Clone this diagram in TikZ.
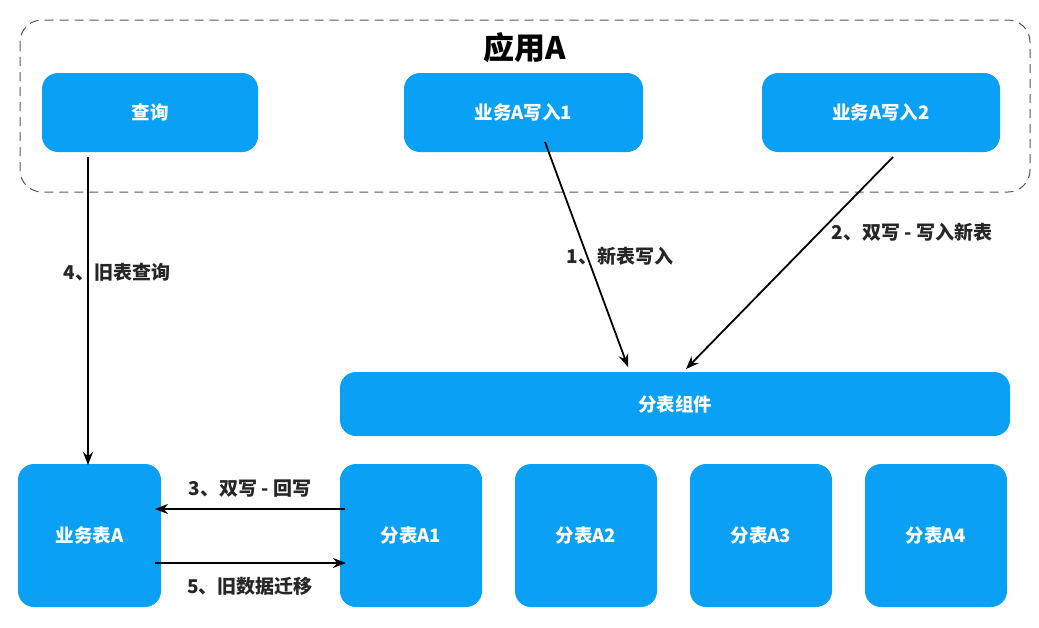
\documentclass[tikz,border=0pt]{standalone}
\usepackage{fontspec}
\setmainfont{Noto Sans CJK SC}
\usetikzlibrary{arrows.meta}
\definecolor{boxblue}{RGB}{10,160,245}
\tikzset{
  bx/.style={fill=boxblue, rounded corners=16pt, text=white, font=\bfseries\fontsize{18.5}{22}\selectfont, inner sep=0pt},
  arr/.style={-{Stealth[length=13pt,width=10pt]}, line width=1.8pt, black},
  lbl/.style={font=\bfseries\fontsize{19}{22}\selectfont, text=black!85, inner sep=1pt},
}
\begin{document}
\begin{tikzpicture}[x=1pt,y=-1pt]
\useasboundingbox (0,0) rectangle (1039,627);
% container
\draw[gray!70!black, dashed, dash pattern=on 9pt off 6pt, line width=1pt, rounded corners=22pt] (20,20) rectangle (1030,192);
\node[font=\bfseries\fontsize{31}{34}\selectfont] (title) at (525,48) {应用A};
% top boxes
\node[bx, minimum width=216pt, minimum height=79pt] (q) at (150,112.5) {查询};
\node[bx, minimum width=239pt, minimum height=79pt] (w1) at (523.5,112.5) {业务A写入1};
\node[bx, minimum width=238pt, minimum height=79pt] (w2) at (881,112.5) {业务A写入2};
% middle
\node[bx, minimum width=670pt, minimum height=64pt] (comp) at (675,404) {分表组件};
% bottom
\node[bx, minimum width=143pt, minimum height=143pt] (ta) at (89.5,535.5) {业务表A};
\node[bx, minimum width=142pt, minimum height=143pt] (a1) at (411,535.5) {分表A1};
\node[bx, minimum width=142pt, minimum height=143pt] (a2) at (586,535.5) {分表A2};
\node[bx, minimum width=142pt, minimum height=143pt] (a3) at (761,535.5) {分表A3};
\node[bx, minimum width=142pt, minimum height=143pt] (a4) at (936,535.5) {分表A4};
% arrow endpoints
\coordinate (q0) at (88,157);
\coordinate (q1) at (88,465);
\coordinate (w1s) at (545,142);
\coordinate (w1e) at (628,367);
\coordinate (w2s) at (893,157);
\coordinate (w2e) at (686,369);
\coordinate (r3s) at (345,509);
\coordinate (r3e) at (155,509);
\coordinate (r5s) at (155,563);
\coordinate (r5e) at (346,563);
% arrows
\draw[arr] (q0) -- (q1);
\draw[arr] (w1s) -- (w1e);
\draw[arr] (w2s) -- (w2e);
\draw[arr] (r3s) -- (r3e);
\draw[arr] (r5s) -- (r5e);
% labels
\node[lbl] (l4) at (117,272) {4、旧表查询};
\node[lbl] (l1) at (620,256) {1、新表写入};
\node[lbl] (l2) at (912,232) {2、双写 - 写入新表};
\node[lbl] (l3) at (250,489) {3、双写 - 回写};
\node[lbl] (l5) at (250,586) {5、旧数据迁移};
\end{tikzpicture}
\end{document}
